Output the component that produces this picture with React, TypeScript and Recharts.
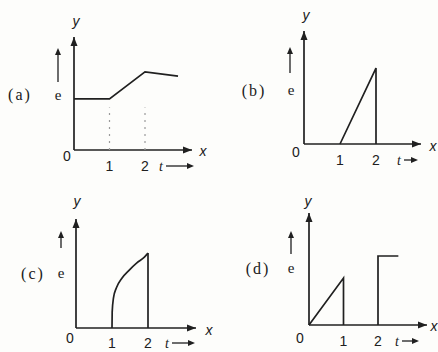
import { LineChart, Line, XAxis, YAxis, ReferenceLine, ReferenceDot } from "recharts";

const W = 438;
const H = 352;
const INK = "#202020";
const SERIF = "'Liberation Serif', 'DejaVu Serif', serif";
const SANS = "'Liberation Sans', Arial, sans-serif";

// shared time ticks
const timeTicks = [1, 2];
const tickLabels = ["1", "2"];
const panelTags = ["(a)", "(b)", "(c)", "(d)"];

// (a) constant emf, rising between 1 and 2, then easing off
const seriesA = [
  { t: 0, e: 1.44 },
  { t: 1, e: 1.44 },
  { t: 2, e: 2.2 },
  { t: 2.93, e: 2.08 },
];
const guideTimesA = [1, 2];
const guideTopA = 1.2;

// (b) straight ramp from 1 to 2, then cut
const seriesB = [
  { t: 1, e: 0 },
  { t: 2, e: 2.11 },
  { t: 2, e: 0 },
];

// (c) curved rise from 1 to 2, then cut
const seriesC = [
  { t: 1, e: 0 },
  { t: 1.005, e: 0.44 },
  { t: 1.04, e: 0.83 },
  { t: 1.12, e: 1.11 },
  { t: 1.28, e: 1.39 },
  { t: 1.48, e: 1.61 },
  { t: 1.69, e: 1.81 },
  { t: 1.9, e: 1.97 },
  { t: 2, e: 2.08 },
];
const dropC = [
  { t: 2, e: 2.08 },
  { t: 2, e: 0 },
];

// (d) ramp 0..1 then cut, step at 2
const rampD = [
  { t: 0, e: 0 },
  { t: 1, e: 1.36 },
  { t: 1, e: 0 },
];
const stepD = [
  { t: 2, e: 0 },
  { t: 2, e: 2.0 },
  { t: 2.59, e: 2.0 },
];

type Frame = {
  ox: number; // origin, px
  oy: number;
  unit: number; // px per unit
  xEnd: number; // x axis arrow tip
  yTop: number; // y axis arrow tip
  tickGap: number;
};

const frames: Frame[] = [
  { ox: 74, oy: 150, unit: 35.5, xEnd: 192, yTop: 37, tickGap: 11 },
  { ox: 304, oy: 144, unit: 36, xEnd: 421, yTop: 31, tickGap: 11 },
  { ox: 76, oy: 328, unit: 36, xEnd: 196, yTop: 219, tickGap: 10 },
  { ox: 309, oy: 325, unit: 34.5, xEnd: 427, yTop: 213, tickGap: 11 },
];

// label positions for each panel
const marks = [
  { tag: [20, 94], e: [58, 95], eArrow: [58, 82, 48], y: [76, 21], x: [203, 151], zero: [67, 156], t: [161, 166], tArrow: [166, 194, 166] },
  { tag: [254, 90], e: [291, 90], eArrow: [290, 73, 47], y: [306, 15], x: [433, 146], zero: [296, 152], t: [399, 160], tArrow: [404, 418, 160] },
  { tag: [33, 273], e: [61, 273], eArrow: [61, 248, 231], y: [77, 201], x: [209, 330], zero: [70, 338], t: [167, 343], tArrow: [172, 195, 343] },
  { tag: [258, 268], e: [291, 268], eArrow: [291, 254, 231], y: [308, 201], x: [434, 326], zero: [300, 338], t: [397, 341], tArrow: [402, 419, 341] },
];

const rightHead = (p: any) => (
  <polygon
    points={`${p.cx},${p.cy} ${p.cx - 9},${p.cy - 3.5} ${p.cx - 9},${p.cy + 3.5}`}
    fill={INK}
  />
);

const upHead = (p: any) => (
  <polygon
    points={`${p.cx},${p.cy} ${p.cx - 3.5},${p.cy + 9} ${p.cx + 3.5},${p.cy + 9}`}
    fill={INK}
  />
);

function Panel({ f, children }: { f: Frame; children: any }) {
  const xMax = (f.xEnd - f.ox) / f.unit;
  const yMax = (f.oy - f.yTop) / f.unit;
  return (
    <div style={{ position: "absolute", left: 0, top: 0 }}>
      <LineChart
        width={W}
        height={H}
        margin={{ top: f.yTop, left: f.ox, right: W - f.xEnd, bottom: 0 }}
      >
        <XAxis
          type="number"
          dataKey="t"
          domain={[0, xMax]}
          ticks={timeTicks}
          interval={0}
          tickFormatter={(v: number) => tickLabels[timeTicks.indexOf(v)]}
          axisLine={false}
          tickLine={false}
          tickSize={0}
          tickMargin={f.tickGap}
          height={H - f.oy}
          tick={{ fill: INK, fontSize: 14, fontFamily: SANS }}
        />
        <YAxis type="number" dataKey="e" domain={[0, yMax]} hide />
        <ReferenceLine
          segment={[{ x: 0, y: 0 }, { x: xMax, y: 0 }]}
          stroke={INK}
          strokeWidth={1.7}
          ifOverflow="visible"
        />
        <ReferenceLine
          segment={[{ x: 0, y: 0 }, { x: 0, y: yMax }]}
          stroke={INK}
          strokeWidth={1.7}
          ifOverflow="visible"
        />
        <ReferenceDot x={xMax} y={0} shape={rightHead} ifOverflow="visible" />
        <ReferenceDot x={0} y={yMax} shape={upHead} ifOverflow="visible" />
        {children}
      </LineChart>
    </div>
  );
}

const lineProps = {
  type: "linear" as const,
  dataKey: "e",
  stroke: INK,
  strokeWidth: 1.7,
  dot: false,
  activeDot: false,
  isAnimationActive: false,
};

function Labels() {
  return (
    <svg
      width={W}
      height={H}
      style={{ position: "absolute", left: 0, top: 0, pointerEvents: "none" }}
    >
      {marks.map((m, i) => (
        <g key={i} fill={INK}>
          <text x={m.tag[0]} y={m.tag[1]} fontFamily={SERIF} fontSize={16} letterSpacing={2} textAnchor="middle" dominantBaseline="central">
            {panelTags[i]}
          </text>
          <text x={m.e[0]} y={m.e[1]} fontFamily={SERIF} fontSize={15} textAnchor="middle" dominantBaseline="central">
            e
          </text>
          <line x1={m.eArrow[0]} y1={m.eArrow[1]} x2={m.eArrow[0]} y2={m.eArrow[2] + 6} stroke={INK} strokeWidth={1.3} />
          <polygon
            points={`${m.eArrow[0]},${m.eArrow[2]} ${m.eArrow[0] - 3},${m.eArrow[2] + 7} ${m.eArrow[0] + 3},${m.eArrow[2] + 7}`}
          />
          <text x={m.y[0]} y={m.y[1]} fontFamily={SANS} fontStyle="italic" fontSize={14} textAnchor="middle" dominantBaseline="central">
            y
          </text>
          <text x={m.x[0]} y={m.x[1]} fontFamily={SANS} fontStyle="italic" fontSize={14} textAnchor="middle" dominantBaseline="central">
            x
          </text>
          <text x={m.zero[0]} y={m.zero[1]} fontFamily={SANS} fontSize={14} textAnchor="middle" dominantBaseline="central">
            0
          </text>
          <text x={m.t[0]} y={m.t[1]} fontFamily={SERIF} fontStyle="italic" fontSize={14} textAnchor="middle" dominantBaseline="central">
            t
          </text>
          <line x1={m.tArrow[0]} y1={m.tArrow[2]} x2={m.tArrow[1] - 6} y2={m.tArrow[2]} stroke={INK} strokeWidth={1.3} />
          <polygon
            points={`${m.tArrow[1]},${m.tArrow[2]} ${m.tArrow[1] - 7},${m.tArrow[2] - 3} ${m.tArrow[1] - 7},${m.tArrow[2] + 3}`}
          />
        </g>
      ))}
    </svg>
  );
}

export default function App() {
  return (
    <div
      style={{
        position: "absolute",
        left: 0,
        top: 0,
        width: W,
        height: H,
        background: "#fdfdfb",
        overflow: "hidden",
      }}
    >
      <Panel f={frames[0]}>
        {guideTimesA.map((t) => (
          <ReferenceLine
            key={t}
            segment={[{ x: t, y: 0 }, { x: t, y: guideTopA }]}
            stroke="#9a9a9a"
            strokeWidth={1.2}
            strokeDasharray="2 5"
          />
        ))}
        <Line data={seriesA} {...lineProps} />
      </Panel>
      <Panel f={frames[1]}>
        <Line data={seriesB} {...lineProps} />
      </Panel>
      <Panel f={frames[2]}>
        <Line data={seriesC} {...lineProps} type="monotone" />
        <Line data={dropC} {...lineProps} />
      </Panel>
      <Panel f={frames[3]}>
        <Line data={rampD} {...lineProps} />
        <Line data={stepD} {...lineProps} />
      </Panel>
      <Labels />
    </div>
  );
}
